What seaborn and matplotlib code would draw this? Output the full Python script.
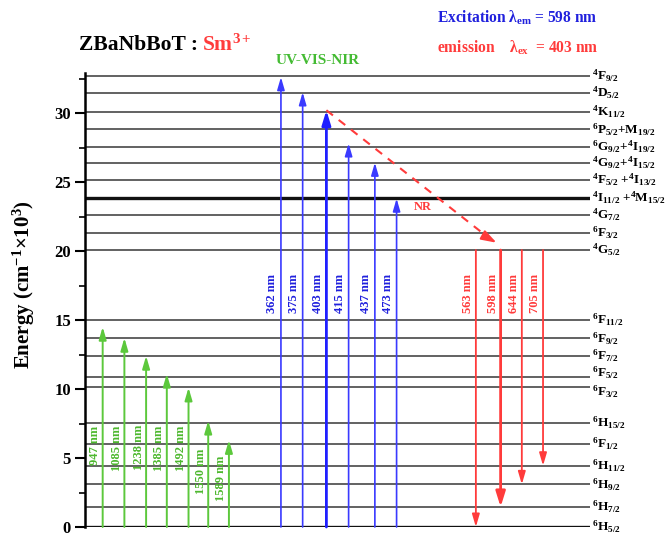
import numpy as np
import pandas as pd
import seaborn as sns
import matplotlib
matplotlib.use('Agg')
import matplotlib.pyplot as plt

# energy levels of Sm3+ (cm-1 x 10^3)
level_energy = [32.68, 31.47, 30.09, 28.82, 27.56, 26.40, 25.14, 23.86, 22.61, 21.33, 20.07,
                15.00, 13.67, 12.39, 10.89, 10.12, 7.56, 6.01, 4.44, 3.09, 1.45, 0.0]
level_labels = ['$^4$F$_{9/2}$', '$^4$D$_{5/2}$', '$^4$K$_{11/2}$', '$^6$P$_{5/2}$+M$_{19/2}$',
                '$^6$G$_{9/2}$+$^4$I$_{19/2}$', '$^4$G$_{9/2}$+$^4$I$_{15/2}$',
                '$^4$F$_{5/2}$ +$^4$I$_{13/2}$', '$^4$I$_{11/2}$ +$^4$M$_{15/2}$',
                '$^4$G$_{7/2}$', '$^6$F$_{3/2}$', '$^4$G$_{5/2}$',
                '$^6$F$_{11/2}$', '$^6$F$_{9/2}$', '$^6$F$_{7/2}$', '$^6$F$_{5/2}$', '$^6$F$_{3/2}$',
                '$^6$H$_{15/2}$', '$^6$F$_{1/2}$', '$^6$H$_{11/2}$', '$^6$H$_{9/2}$',
                '$^6$H$_{7/2}$', '$^6$H$_{5/2}$']
thick_levels = [23.86, 0.0]

# NIR absorption (green)
nir_nm = ['947', '1085', '1238', '1385', '1492', '1550', '1589']
nir_top = [14.5, 13.7, 12.4, 11.1, 10.1, 7.7, 6.3]
# excitation (blue)
exc_nm = ['362', '375', '403', '415', '437', '473']
exc_top = [32.6, 31.5, 30.2, 27.8, 26.4, 23.8]
# emission (red) from 4G5/2
emi_nm = ['563', '598', '644', '705']
emi_start = 20.07
emi_end = [0.0, 1.45, 3.09, 4.44]

# layout: arrow columns on a 0-100 horizontal scale
nir_x = [3.5, 7.8, 12.1, 16.2, 20.5, 24.4, 28.5]
nir_text_y = [5.9, 5.7, 5.75, 5.7, 5.7, 4.05, 3.5]
exc_x = [38.8, 43.1, 47.8, 52.2, 57.4, 61.7]
emi_x = [77.4, 82.3, 86.5, 90.7]
label_nudge = {14: 0.25, 15: -0.3}

green = '#5cc83c'
blue = '#3a3aff'
red = '#ff3b3b'

sns.set_theme(style='ticks')
plt.rcParams['font.family'] = ['Liberation Serif', 'DejaVu Serif']
plt.rcParams['font.weight'] = 'bold'
plt.rcParams['mathtext.fontset'] = 'stix'
plt.rcParams['mathtext.default'] = 'regular'
for k in ['text.color', 'axes.labelcolor', 'xtick.color', 'ytick.color', 'axes.edgecolor']:
    plt.rcParams[k] = 'black'

fig = plt.figure(figsize=(6.68, 5.40), dpi=100)
ax = fig.add_axes([85/668, 13/540, 505/668, 454/540])

# energy levels
df = pd.DataFrame({'x': np.tile([0, 100], len(level_energy)),
                   'E': np.repeat(level_energy, 2),
                   'level': np.repeat(np.arange(len(level_energy)), 2)})
sns.lineplot(data=df, x='x', y='E', units='level', estimator=None,
             color='#555555', lw=1.3, ax=ax)
ax.hlines(thick_levels, 0, 100, color='#111111', lw=2.4)
for i, (e, lab) in enumerate(zip(level_energy, level_labels)):
    ax.text(100.4, e + label_nudge.get(i, 0), lab, fontsize=9.5, ha='left', va='center',
            clip_on=False)


def arrow(x, y0, y1, color, lw=1.3, hl=0.75, hw=0.22):
    ax.annotate('', xy=(x, y1), xytext=(x, y0),
                arrowprops=dict(arrowstyle=f'-|>,head_length={hl},head_width={hw}',
                                color=color, lw=lw, shrinkA=0, shrinkB=0,
                                mutation_scale=10))


for x, top, nm, ty in zip(nir_x, nir_top, nir_nm, nir_text_y):
    arrow(x, 0, top, green, lw=1.4)
    ax.text(x - 1.5, ty, nm + ' nm', rotation=90, color='#4db82e', fontsize=9,
            ha='center', va='center')

for x, top, nm in zip(exc_x, exc_top, exc_nm):
    if nm == '403':
        arrow(x, 0, top, '#1f1fff', lw=2.0, hl=0.85, hw=0.26)
    else:
        arrow(x, 0, top, blue, lw=1.2)
    ax.text(x - 1.7, 16.9, nm + ' nm', rotation=90, color='#2020dd', fontsize=9,
            ha='center', va='center')

for x, end, nm in zip(emi_x, emi_end, emi_nm):
    if nm == '598':
        arrow(x, emi_start, end, red, lw=2.0, hl=0.9, hw=0.28)
    else:
        arrow(x, emi_start, end, red, lw=1.3)
    ax.text(x - 1.6, 16.9, nm + ' nm', rotation=90, color=red, fontsize=9,
            ha='center', va='center')

# non-radiative relaxation
ax.plot([exc_x[2], 80.3], [exc_top[2], 20.85], ls=(0, (4, 3.5)), color=red, lw=1.5)
ax.annotate('', xy=(81.5, 20.6), xytext=(79.3, 21.05),
            arrowprops=dict(arrowstyle='-|>,head_length=0.9,head_width=0.3', color=red,
                            lw=1.5, shrinkA=0, shrinkB=0, mutation_scale=10))
ax.text(66.9, 23.2, 'NR', color=red, fontsize=9, ha='center', va='center')

ax.set_xlim(0, 100)
ax.set_ylim(0, 32.9)
ax.set_xticks([])
ax.set_xlabel('')
ax.set_yticks(range(0, 31, 5))
ax.set_yticks(np.arange(0, 33, 2.5), minor=True)
ax.tick_params(axis='y', which='major', length=7, width=1.5, labelsize=12, pad=3)
ax.tick_params(axis='y', which='minor', length=4, width=1.2)
for s in ['top', 'right', 'bottom']:
    ax.spines[s].set_visible(False)
ax.spines['left'].set_linewidth(1.8)
ax.set_ylabel('Energy (cm$^{-1}$×10$^{3}$)', fontsize=15, fontweight='bold')
ax.yaxis.set_label_coords(-0.095, 0.533)

fig.text(79/668, 1 - 45/540, 'ZBaNbBoT : ', fontsize=15.5, ha='left', va='center')
fig.text(202/668, 1 - 45/540, 'Sm$^{3+}$', fontsize=15.5, color=red, ha='left', va='center')
fig.text(318/668, 1 - 61/540, 'UV-VIS-NIR', fontsize=11, color='#44bb33', ha='center', va='center')
fig.text(437/668, 1 - 18/540, r'Excitation $\lambda_{em}$ = 598 nm', fontsize=11.2,
         color='#2020dd', ha='left', va='center')
fig.text(437/668, 1 - 48/540, r'emission    $\lambda_{ex}$  = 403 nm', fontsize=11.2,
         color=red, ha='left', va='center')

fig.savefig('out.png', dpi=100)
